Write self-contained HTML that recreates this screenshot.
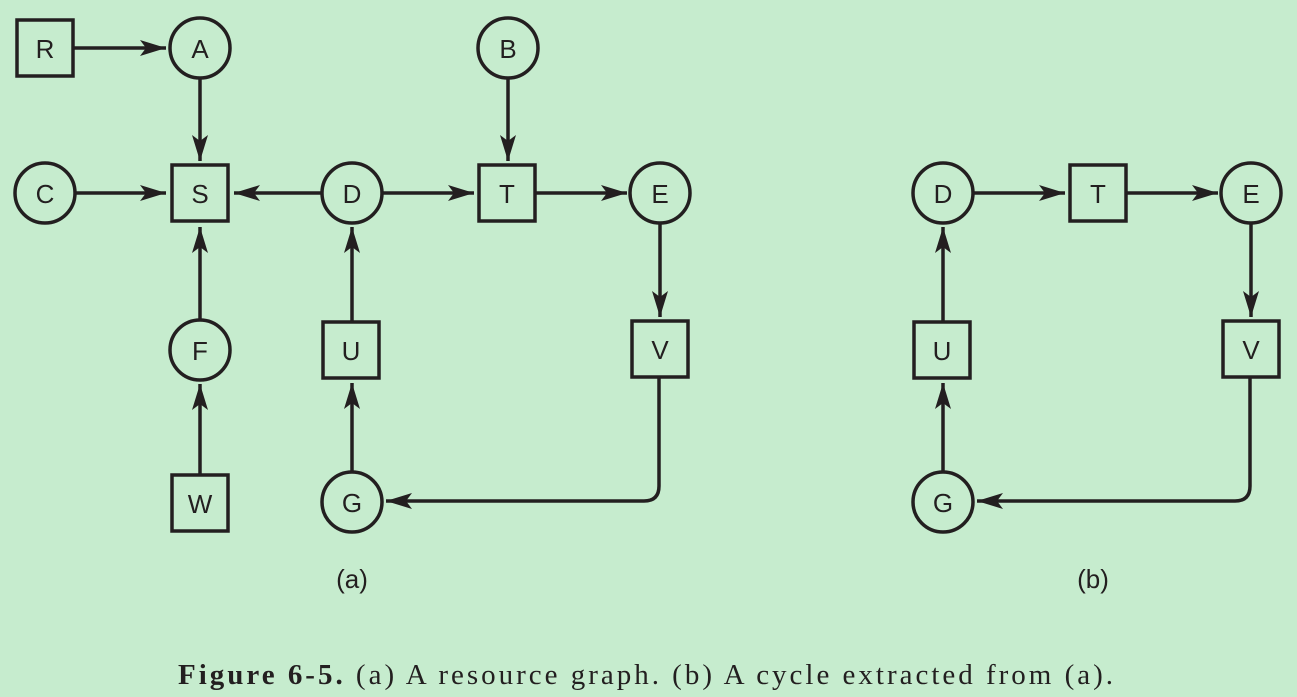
<!DOCTYPE html>
<html><head><meta charset="utf-8"><style>
html,body{margin:0;padding:0;background:#c6ecce;}
svg{display:block}
text{font-family:"Liberation Sans",Arial,sans-serif;fill:#231f20}
</style></head><body>
<svg width="1297" height="697" viewBox="0 0 1297 697" xmlns="http://www.w3.org/2000/svg">
<defs>
<marker id="ah" markerUnits="userSpaceOnUse" markerWidth="30" markerHeight="20" refX="26" refY="8" orient="auto">
<path d="M26,8 L0,0 L6,8 L0,16 Z" fill="#231f20"/>
</marker>
</defs>
<rect width="1297" height="697" fill="#c6ecce"/>
<g stroke="#231f20" stroke-width="3.5" fill="none">
<rect x="17" y="20" width="56" height="56"/>
<circle cx="200" cy="48" r="30"/>
<circle cx="508" cy="48" r="30"/>
<circle cx="45" cy="193" r="30"/>
<rect x="172" y="165" width="56" height="56"/>
<circle cx="352" cy="193" r="30"/>
<rect x="479" y="165" width="56" height="56"/>
<circle cx="660" cy="193" r="30"/>
<circle cx="200" cy="350" r="30"/>
<rect x="323" y="322" width="56" height="56"/>
<rect x="632" y="321" width="56" height="56"/>
<rect x="172" y="475" width="56" height="56"/>
<circle cx="352" cy="502" r="30"/>
<line x1="73" y1="48" x2="166" y2="48" marker-end="url(#ah)"/>
<line x1="200" y1="78" x2="200" y2="161" marker-end="url(#ah)"/>
<line x1="508" y1="78" x2="508" y2="161" marker-end="url(#ah)"/>
<line x1="75" y1="193" x2="166" y2="193" marker-end="url(#ah)"/>
<line x1="322" y1="193" x2="234" y2="193" marker-end="url(#ah)"/>
<line x1="382" y1="193" x2="474" y2="193" marker-end="url(#ah)"/>
<line x1="535" y1="193" x2="627" y2="193" marker-end="url(#ah)"/>
<line x1="660" y1="223" x2="660" y2="317" marker-end="url(#ah)"/>
<line x1="200" y1="320" x2="200" y2="227" marker-end="url(#ah)"/>
<line x1="352" y1="322" x2="352" y2="227" marker-end="url(#ah)"/>
<line x1="200" y1="475" x2="200" y2="384" marker-end="url(#ah)"/>
<line x1="352" y1="472" x2="352" y2="383" marker-end="url(#ah)"/>
<path d="M659,377 L659,486 Q659,501 644,501 L386,501" marker-end="url(#ah)"/>
<circle cx="943" cy="193" r="30"/>
<rect x="1070" y="165" width="56" height="56"/>
<circle cx="1251" cy="193" r="30"/>
<rect x="914" y="322" width="56" height="56"/>
<rect x="1223" y="321" width="56" height="56"/>
<circle cx="943" cy="502" r="30"/>
<line x1="973" y1="193" x2="1065" y2="193" marker-end="url(#ah)"/>
<line x1="1126" y1="193" x2="1218" y2="193" marker-end="url(#ah)"/>
<line x1="1251" y1="223" x2="1251" y2="317" marker-end="url(#ah)"/>
<line x1="943" y1="322" x2="943" y2="227" marker-end="url(#ah)"/>
<line x1="943" y1="472" x2="943" y2="383" marker-end="url(#ah)"/>
<path d="M1250,377 L1250,486 Q1250,501 1235,501 L977,501" marker-end="url(#ah)"/>
</g>
<g font-size="26" text-anchor="middle">
<text x="45" y="58">R</text>
<text x="200" y="58">A</text>
<text x="508" y="58">B</text>
<text x="45" y="203">C</text>
<text x="200" y="203">S</text>
<text x="352" y="203">D</text>
<text x="507" y="203">T</text>
<text x="660" y="203">E</text>
<text x="200" y="360">F</text>
<text x="351" y="360">U</text>
<text x="660" y="359">V</text>
<text x="200" y="513">W</text>
<text x="352" y="512">G</text>
<text x="943" y="203">D</text>
<text x="1098" y="203">T</text>
<text x="1251" y="203">E</text>
<text x="942" y="360">U</text>
<text x="1251" y="359">V</text>
<text x="943" y="512">G</text>
<text x="352" y="588">(a)</text>
<text x="1093" y="588">(b)</text>
</g>
<text x="178" y="684" font-size="29" textLength="935" lengthAdjust="spacing" style="font-family:'Liberation Serif',serif"><tspan font-weight="bold">Figure 6-5.</tspan>  (a) A resource graph. (b) A cycle extracted from (a).</text>
</svg>
</body></html>
